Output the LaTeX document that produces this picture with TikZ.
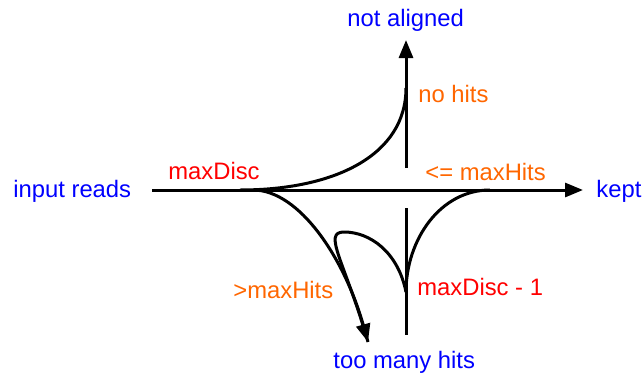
\documentclass[tikz,border=0pt]{standalone}
\usepackage{fontspec}
\setmainfont{Liberation Sans}
\usetikzlibrary{arrows.meta}
\definecolor{lblue}{RGB}{0,0,255}
\definecolor{lred}{RGB}{255,0,0}
\definecolor{lorange}{RGB}{255,102,0}
\begin{document}
\begin{tikzpicture}[x=0.5pt,y=-0.5pt,
  lbl/.style={inner sep=0pt,anchor=base west,font=\fontsize{11.9}{14}\selectfont},
  term/.style={lbl,text=lblue},
  cnt/.style={lbl,text=lred},
  cond/.style={lbl,text=lorange},
  flow/.style={line width=1.5pt,draw=black},
  tip/.style={-{Triangle[length=9pt,width=7pt]}}]
\useasboundingbox (0,0) rectangle (643,381);
% coordinates
\coordinate (inL) at (152,190);
\coordinate (inR) at (583,190);
\coordinate (upB) at (406,168);
\coordinate (upT) at (406,40);
\coordinate (loT) at (406,208);
\coordinate (loB) at (406,335);
\coordinate (s1) at (240,190);
\coordinate (j1) at (406,88);
\coordinate (s2) at (253,190);
\coordinate (t2) at (368,342);
\coordinate (s3) at (490,190);
\coordinate (cusp) at (406,292);
\coordinate (ltop) at (344,232);
% labels
\node[term] (input) at (13,197) {input reads};
\node[term] (kept) at (596,197) {kept};
\node[term] (notal) at (347,26) {not aligned};
\node[term] (many) at (333,368) {too many hits};
\node[cnt] (md) at (168,179) {maxDisc};
\node[cnt] (md1) at (417,295) {maxDisc - 1};
\node[cond] (nohits) at (418,102) {no hits};
\node[cond] (le) at (425,180) {<= maxHits};
\node[cond] (gt) at (233,298) {>maxHits};
% lines
\draw[flow,tip] (inL) -- (inR);
\draw[flow,tip] (upB) -- (upT);
\draw[flow] (loT) -- (loB);
\draw[flow] (s1) .. controls (335,190) and (406,155) .. (j1);
\draw[flow] (s3) .. controls (440,190) and (406,240) .. (cusp);
\draw[flow] (cusp) .. controls (398,252) and (370,232) .. (ltop)
  .. controls (322,232) and (345,262) .. (t2);
\draw[flow,tip] (s2) .. controls (300,190) and (345,260) .. (t2);
\end{tikzpicture}
\end{document}
